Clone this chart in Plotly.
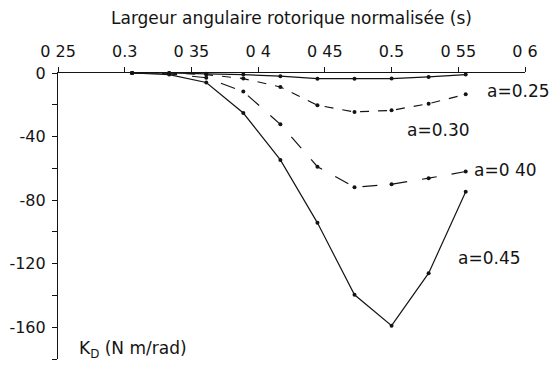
import plotly.graph_objects as go

# Normalised rotor angular width s (points at k/36)
s = [11/36, 12/36, 13/36, 14/36, 15/36, 16/36, 17/36, 18/36, 19/36, 20/36]

# K_D (N m/rad) for each value of a
kd_025 = [0, 0, -0.5, -1, -2, -3.6, -3.6, -3.5, -2.5, -1]
kd_030 = [0, 0, -1, -3.5, -8.8, -20.3, -24.5, -23.5, -19.3, -13.4]
kd_040 = [0, -0.5, -3, -11.7, -32.3, -59, -71.9, -70, -66.2, -62]
kd_045 = [0, -1, -6, -25.2, -54.7, -94.3, -139.6, -159, -126, -74.8]

series = [
    ("a=0.25", kd_025, "solid"),
    ("a=0.30", kd_030, "dash"),
    ("a=0 40", kd_040, "longdash"),
    ("a=0.45", kd_045, "solid"),
]

x_ticks = [0.25, 0.3, 0.35, 0.4, 0.45, 0.5, 0.55, 0.6]
x_ticktext = ["0 25", "0.3", "0 35", "0 4", "0 45", "0.5", "0 55", "0 6"]
y_labelled = [0, -40, -80, -120, -160]
y_ticktext = ["0", "-40", "-80", "-120", "-160"]
y_ticks = [0, -20, -40, -60, -80, -100, -120, -140, -160, -180]

# curve labels: (text, x, y)
labels = [
    ("a=0.25", 0.5700, -11.6),
    ("a=0.30", 0.5100, -35.8),
    ("a=0 40", 0.5600, -61.0),
    ("a=0.45", 0.5480, -116.4),
]

FONT = "DejaVu Sans"
INK = "#141414"

fig = go.Figure()
for name, vals, dash in series:
    fig.add_trace(go.Scatter(
        x=s, y=vals, mode="lines+markers", name=name,
        line=dict(color=INK, width=1.2, dash=dash),
        marker=dict(color=INK, size=4),
        showlegend=False, cliponaxis=False,
    ))

for text, x, y in labels:
    fig.add_annotation(x=x, y=y, text=text, showarrow=False,
                       xanchor="left", yanchor="middle",
                       font=dict(family=FONT, size=17, color=INK))

fig.add_annotation(x=0.5, y=1, xref="paper", yref="paper", yshift=55,
                   text="Largeur angulaire rotorique normalisée (s)",
                   showarrow=False, xanchor="center", yanchor="middle",
                   font=dict(family=FONT, size=17, color=INK))
fig.add_annotation(x=0.2645, y=-174, text="K<sub>D</sub> (N m/rad)",
                   showarrow=False, xanchor="left", yanchor="middle",
                   font=dict(family=FONT, size=17, color=INK))

axis_common = dict(showgrid=False, zeroline=False, showline=True,
                   linecolor=INK, linewidth=1.2, tickcolor=INK,
                   tickwidth=1.2)

fig.update_layout(
    width=552, height=369,
    margin=dict(l=58, r=27, t=73, b=10),
    paper_bgcolor="white", plot_bgcolor="white",
    xaxis=dict(range=[0.25, 0.6], side="top", tickmode="array",
               tickvals=x_ticks, ticktext=x_ticktext, ticks="outside",
               ticklen=5, ticklabelstandoff=4,
               tickfont=dict(family=FONT, size=16, color=INK),
               **axis_common),
    xaxis2=dict(range=[0.25, 0.6], overlaying="x", side="top",
                tickmode="array", tickvals=x_ticks, ticks="inside",
                ticklen=5, showticklabels=False, anchor="y",
                **axis_common),
    yaxis=dict(range=[-180, 0], tickmode="array", tickvals=y_labelled,
               ticktext=y_ticktext, ticks="outside", ticklen=5,
               ticklabelstandoff=3,
               minor=dict(tickmode="array", tickvals=y_ticks,
                          ticks="outside", ticklen=5, tickcolor=INK,
                          tickwidth=1.2),
               tickfont=dict(family=FONT, size=16, color=INK),
               **axis_common),
    yaxis2=dict(range=[-180, 0], overlaying="y", side="left",
                tickmode="array", tickvals=y_ticks, ticks="inside",
                ticklen=5, showticklabels=False, anchor="x",
                **axis_common),
)

fig.write_html("out.html")
